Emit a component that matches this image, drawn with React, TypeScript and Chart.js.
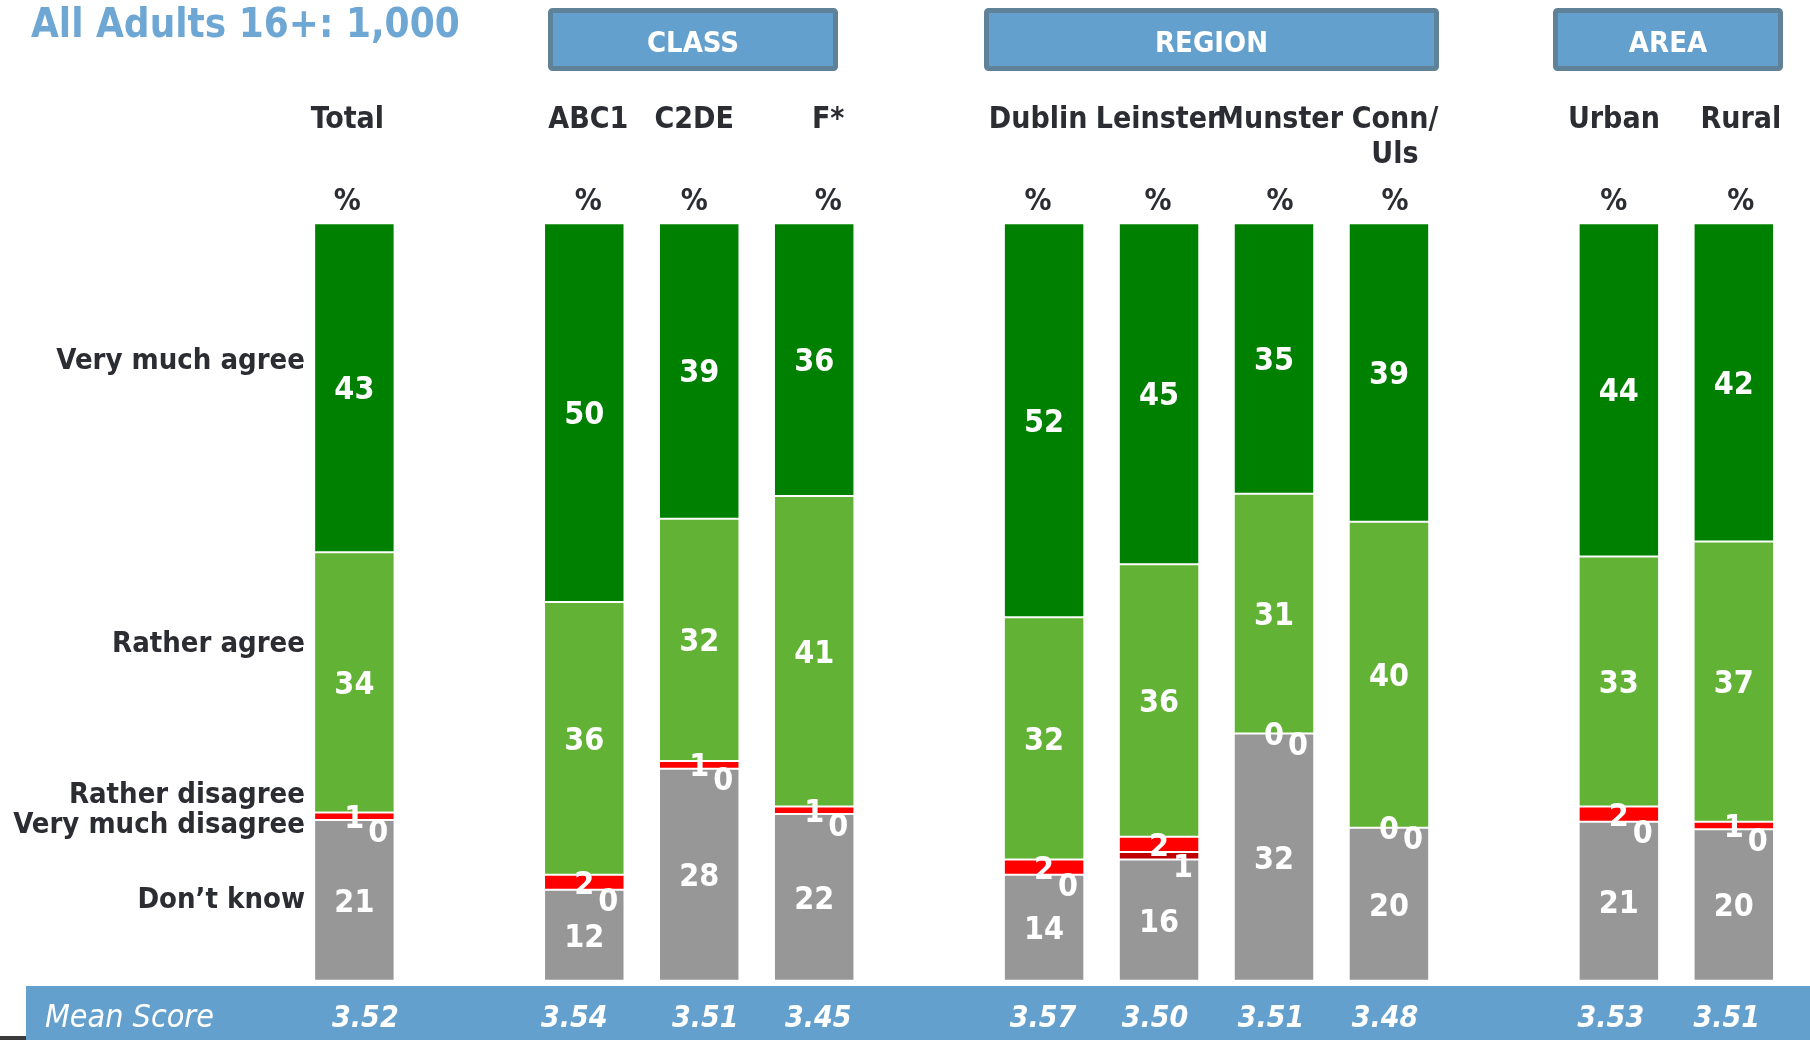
import React, { useEffect, useRef } from 'react';
import { Chart, registerables } from 'chart.js';

Chart.register(...registerables);

// ---------- DATA ----------
const categories: (string | string[])[] = [
  'Total', '', 'ABC1', 'C2DE', 'F*', '', 'Dublin', 'Leinster', 'Munster', ['Conn/', 'Uls'], '', 'Urban', 'Rural',
];
const veryMuchAgree = [43, null, 50, 39, 36, null, 52, 45, 35, 39, null, 44, 42];
const ratherAgree = [34, null, 36, 32, 41, null, 32, 36, 31, 40, null, 33, 37];
const ratherDisagree = [1, null, 2, 1, 1, null, 2, 2, 0, 0, null, 2, 1];
const veryMuchDisagree = [0, null, 0, 0, 0, null, 0, 1, 0, 0, null, 0, 0];
const dontKnow = [21, null, 12, 28, 22, null, 14, 16, 32, 20, null, 21, 20];
const meanScores = ['3.52', null, '3.54', '3.51', '3.45', null, '3.57', '3.50', '3.51', '3.48', null, '3.53', '3.51'];
const rowLabels = ['Very much agree', 'Rather agree', 'Rather disagree', 'Very much disagree', 'Don\u2019t know'];
const groupLabels = ['CLASS', 'REGION', 'AREA'];
const titleText = 'All Adults 16+: 1,000';
const meanLabel = 'Mean Score';

// ---------- LAYOUT / STYLE ----------
const W = 1810;
const H = 1040;
const FONT = '"DejaVu Sans Condensed", "DejaVu Sans", sans-serif';
const COLORS = {
  vma: '#008000',
  ra: '#62b235',
  rd: '#ff0000',
  vmd: '#c00000',
  dk: '#979797',
  band: '#63a0cd',
  bandBorder: '#5f8299',
  text: '#2b2d33',
  title: '#6ea7d4',
};
const LAYOUT = {
  // y positions (in % units of the value axis) of the row label baselines
  rowLabelValue: [80.8, 43.4, 23.5, 19.5, 9.6],
  rowLabelRight: 305,
  labelNudge: [-7, 0, 4, -5, 14, 0, -6, -1, 6, 6, 0, -5, 7],
  meanNudge: [11, 0, -10, 6, 4, 0, -1, -4, -3, -4, 0, -8, -7],
  groupBoxes: [[548, 838], [984, 1439], [1553, 1783]],
};

const series = [
  { key: 'dk', label: rowLabels[4], values: dontKnow, color: COLORS.dk },
  { key: 'vmd', label: rowLabels[3], values: veryMuchDisagree, color: COLORS.vmd },
  { key: 'rd', label: rowLabels[2], values: ratherDisagree, color: COLORS.rd },
  { key: 'ra', label: rowLabels[1], values: ratherAgree, color: COLORS.ra },
  { key: 'vma', label: rowLabels[0], values: veryMuchAgree, color: COLORS.vma },
];

const rowTotal = (i: number) =>
  series.reduce((s, d) => s + ((d.values[i] as number | null) ?? 0), 0);

const overlayPlugin = {
  id: 'overlay',
  afterDraw(chart: any) {
    const ctx: CanvasRenderingContext2D = chart.ctx;
    const xs = chart.scales.x;
    const ys = chart.scales.y;
    ctx.save();

    // Title
    ctx.fillStyle = COLORS.title;
    ctx.font = `bold 40px ${FONT}`;
    ctx.textAlign = 'left';
    ctx.textBaseline = 'alphabetic';
    ctx.fillText(titleText, 31, 37);

    // Group header boxes
    groupLabels.forEach((g, k) => {
      const [l, r] = LAYOUT.groupBoxes[k];
      const t = 8, b = 71;
      ctx.fillStyle = COLORS.band;
      ctx.strokeStyle = COLORS.bandBorder;
      ctx.lineWidth = 5;
      ctx.beginPath();
      (ctx as any).roundRect(l + 2.5, t + 2.5, r - l - 5, b - t - 5, 2);
      ctx.fill();
      ctx.stroke();
      ctx.fillStyle = '#ffffff';
      ctx.font = `bold 29px ${FONT}`;
      ctx.textAlign = 'center';
      ctx.fillText(g, (l + r) / 2, 52);
    });

    // Category labels and % signs
    ctx.fillStyle = COLORS.text;
    ctx.font = `bold 30px ${FONT}`;
    ctx.textAlign = 'center';
    categories.forEach((c, i) => {
      const lines = Array.isArray(c) ? c : [c];
      if (!lines[0]) return;
      const cx = xs.getPixelForValue(i) + LAYOUT.labelNudge[i];
      lines.forEach((ln, j) => ctx.fillText(ln, cx, 128 + j * 35));
      ctx.fillText('%', cx, 210);
    });

    // Row labels
    ctx.font = `bold 29px ${FONT}`;
    ctx.textAlign = 'right';
    rowLabels.forEach((r, k) => {
      ctx.fillText(r, LAYOUT.rowLabelRight, ys.getPixelForValue(LAYOUT.rowLabelValue[k]));
    });

    // Data labels
    ctx.fillStyle = '#ffffff';
    ctx.font = `bold 32px ${FONT}`;
    ctx.textAlign = 'center';
    series.forEach((s, d) => {
      const meta = chart.getDatasetMeta(d);
      s.values.forEach((v, i) => {
        if (v === null || v === undefined) return;
        const el = meta.data[i];
        let cx = el.x;
        let cy = (el.y + el.base) / 2;
        if (s.key === 'vmd') {
          cx += 24;
          cy += 10;
        }
        ctx.fillText(String(v), cx, cy + 11.5);
      });
    });

    // Mean score band
    ctx.fillStyle = COLORS.band;
    ctx.fillRect(26, 986, W - 26, H - 986);
    ctx.fillStyle = '#3a3a3a';
    ctx.fillRect(0, 1036, 26, 4);
    ctx.fillStyle = '#ffffff';
    ctx.font = `italic 32px ${FONT}`;
    ctx.textAlign = 'left';
    ctx.fillText(meanLabel, 45, 1027);
    ctx.font = `italic bold 30px ${FONT}`;
    ctx.textAlign = 'center';
    meanScores.forEach((m, i) => {
      if (!m) return;
      ctx.fillText(m, xs.getPixelForValue(i) + LAYOUT.meanNudge[i], 1027);
    });

    ctx.restore();
  },
};

export default function App() {
  const ref = useRef<HTMLCanvasElement | null>(null);

  useEffect(() => {
    if (!ref.current) return;
    const chart = new Chart(ref.current, {
      type: 'bar',
      data: {
        labels: categories.map((c, i) => (Array.isArray(c) ? c.join(' ') : c || `gap${i}`)),
        datasets: series.map((s) => ({
          label: s.label,
          data: s.values.map((v, i) => (v === null ? null : ((v as number) / rowTotal(i)) * 100)),
          backgroundColor: s.color,
          borderColor: '#ffffff',
          borderWidth: 1,
          borderSkipped: false,
          barPercentage: 0.7,
          categoryPercentage: 1,
        })),
      },
      options: {
        animation: false,
        responsive: false,
        devicePixelRatio: 1,
        layout: { padding: { left: 296.9, right: 18.7, top: 223.3, bottom: 59.3 } },
        plugins: { legend: { display: false }, tooltip: { enabled: false } },
        scales: {
          x: { stacked: true, display: false },
          y: { stacked: true, display: false, min: 0, max: 100 },
        },
      },
      plugins: [overlayPlugin],
    });
    return () => chart.destroy();
  }, []);

  return (
    <div style={{ position: 'fixed', left: 0, top: 0, width: W, height: H, background: '#fff' }}>
      <canvas ref={ref} width={W} height={H} style={{ display: 'block', width: W, height: H }} />
    </div>
  );
}
